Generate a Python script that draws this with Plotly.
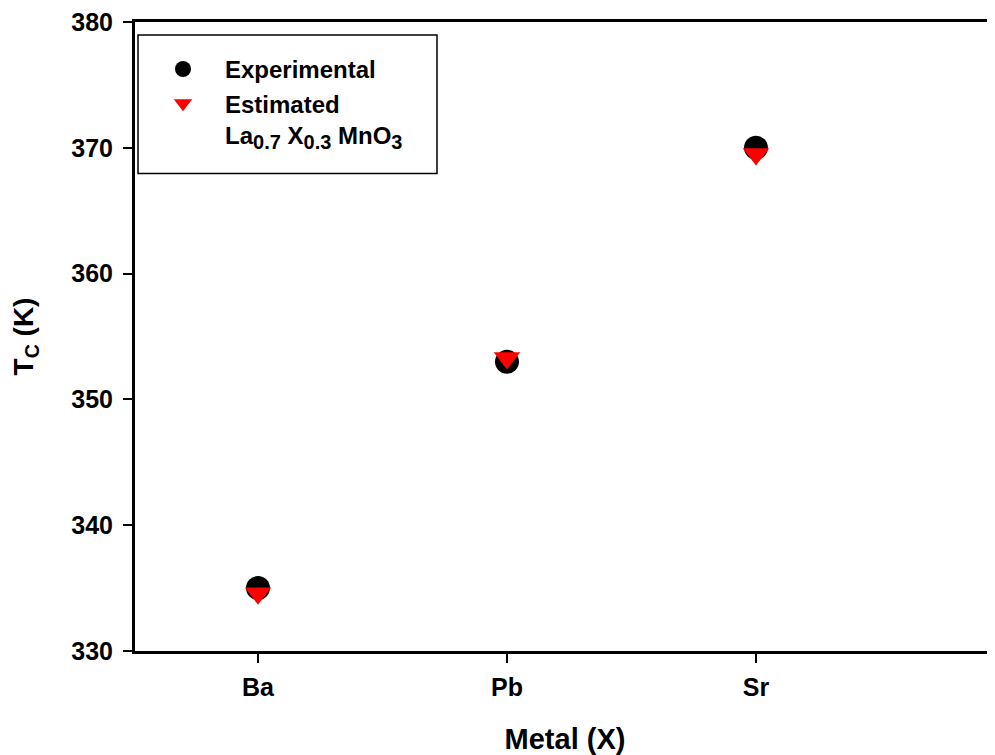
import plotly.graph_objects as go

metals = ["Ba", "Pb", "Sr"]
tc_experimental = [335.0, 353.0, 370.0]
tc_estimated = [334.6, 353.3, 369.5]
y_ticks = [330, 340, 350, 360, 370, 380]

FONT = "Liberation Sans, Arial, sans-serif"

def sub(s):
    return '<sub><span style="font-size:20px">' + s + "</span></sub>"

fig = go.Figure()
fig.add_trace(go.Scatter(
    x=metals, y=tc_experimental, mode="markers", name="Experimental",
    marker=dict(symbol="circle", size=24, color="black", line=dict(width=0)),
))
fig.add_trace(go.Scatter(
    x=metals, y=tc_estimated, mode="markers",
    name="Estimated<br>La" + sub("0.7") + " X" + sub("0.3") + " MnO" + sub("3"),
    marker=dict(symbol="triangle-down", size=23, color="#ff0000", line=dict(width=0)),
))

OFF = 8  # page body margin
W, H = 987, 747
L, R, T, B = 127, 0, 12, 104

def px_x(p):
    return (p - OFF - L) / (W - L - R)

def px_y(p):
    return 1 - (p - OFF - T) / (H - T - B)

fig.update_layout(
    width=W, height=H,
    margin=dict(l=L, r=R, t=T, b=B),
    paper_bgcolor="white", plot_bgcolor="white",
    font=dict(family=FONT, size=24, color="black", weight="bold"),
    showlegend=True,
    legend=dict(
        x=px_x(141), y=px_y(45), xanchor="left", yanchor="top",
        bgcolor="rgba(0,0,0,0)", borderwidth=0,
        font=dict(family=FONT, size=24, color="black", weight="bold"),
        itemwidth=74, valign="top", tracegroupgap=0,
    ),
    shapes=[dict(
        type="rect", xref="paper", yref="paper",
        x0=px_x(138), x1=px_x(437), y0=px_y(172), y1=px_y(33),
        line=dict(color="black", width=1.5), fillcolor="rgba(0,0,0,0)", layer="above",
    )],
    xaxis=dict(
        type="category", categoryorder="array", categoryarray=metals,
        range=[-0.494, 2.960],
        showgrid=False, zeroline=False,
        showline=True, linecolor="black", linewidth=3, mirror=True,
        ticks="outside", ticklen=9, tickwidth=1.5, tickcolor="black",
        ticklabelstandoff=3,
        tickfont=dict(family=FONT, size=25, color="black", weight="bold"),
        title=dict(text="Metal (X)", standoff=32,
                   font=dict(family=FONT, size=29, color="black", weight="bold")),
    ),
    yaxis=dict(
        range=[330, 380], tickvals=y_ticks,
        showgrid=False, zeroline=False,
        showline=True, linecolor="black", linewidth=3, mirror=False,
        ticks="outside", ticklen=9, tickwidth=1.5, tickcolor="black",
        ticklabelstandoff=5, ticklabeloverflow="allow",
        tickfont=dict(family=FONT, size=25, color="black", weight="bold"),
        title=dict(text="T<sub>C</sub> (K)", standoff=30,
                   font=dict(family=FONT, size=28, color="black", weight="bold")),
    ),
)

fig.write_html("out.html")
